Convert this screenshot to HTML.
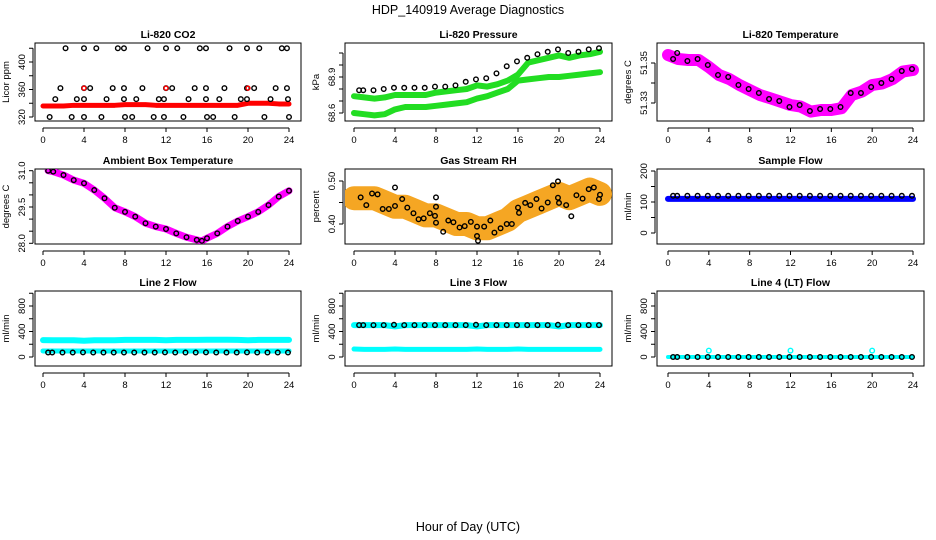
<!DOCTYPE html>
<html><head><meta charset="utf-8"><style>
html,body{margin:0;padding:0;background:#fff;}
svg{display:block;font-family:"Liberation Sans",Arial,sans-serif;}
</style></head><body>
<svg id="chart" width="936" height="540" viewBox="0 0 936 540" xmlns="http://www.w3.org/2000/svg">
<text x="468" y="14" text-anchor="middle" font-size="12.5">HDP_140919  Average Diagnostics</text>
<text x="468" y="531" text-anchor="middle" font-size="12.5">Hour of Day (UTC)</text>
</svg>
<script>
const hours = [0,1,2,3,4,5,6,7,8,9,10,11,12,13,14,15,16,17,18,19,20,21,22,23,24];
const xTicks = [0,4,8,12,16,20,24];
// CO2
const co2Band = [336,336,336,337,337,337,337,337,338,338,338,337,337,337,337,337,337,337,337,337,340,340,340,339,339];
const co2TopH = [2.2,4.0,5.2,7.3,7.9,10.2,12.0,13.1,15.3,15.9,18.2,19.9,21.1,23.3,23.8];
const co2MidH = [1.7,4.0,4.6,6.8,7.9,9.7,12.0,12.6,14.8,15.9,17.7,19.9,20.6,22.7,23.8];
const co2LowH = [1.2,3.3,4.0,6.2,7.9,9.1,11.3,11.8,14.2,15.9,17.2,19.3,19.9,22.2,23.9];
const co2BotH = [0.65,2.8,4.0,5.7,8.0,8.7,10.8,11.8,13.7,16.0,16.6,18.7,21.6,24.0];
const co2Levels = [420,362,346,320];
const co2RedH = [4,12,20];
// Pressure
const presCircles = [68.79,68.79,68.79,68.80,68.81,68.81,68.81,68.81,68.82,68.82,68.83,68.86,68.88,68.89,68.93,68.99,69.03,69.06,69.09,69.11,69.13,69.10,69.11,69.13,69.14];
const presUpper = [68.74,68.73,68.72,68.73,68.75,68.75,68.75,68.75,68.77,68.78,68.79,68.80,68.83,68.82,68.84,68.87,68.92,69.02,69.04,69.06,69.08,69.06,69.08,69.09,69.11];
const presLower = [68.60,68.59,68.58,68.59,68.63,68.65,68.65,68.65,68.66,68.67,68.68,68.69,68.72,68.74,68.77,68.80,68.87,68.88,68.89,68.90,68.90,68.91,68.92,68.93,68.94];
// Li-820 temperature
const ltBand = [51.354,51.352,51.3515,51.3515,51.348,51.344,51.342,51.339,51.3365,51.334,51.3324,51.3307,51.329,51.3282,51.3257,51.3265,51.3265,51.3274,51.334,51.3357,51.339,51.3398,51.342,51.3457,51.3465];
const ltCircles = [51.352,51.355,51.351,51.352,51.349,51.344,51.343,51.339,51.337,51.335,51.332,51.331,51.328,51.329,51.326,51.327,51.327,51.328,51.335,51.335,51.338,51.340,51.342,51.346,51.347];
// Ambient
const ambH = [0.5,1,2,3,4,5,6,7,8,9,10,11,12,13,14,15,15.5,16,17,18,19,20,21,22,23,24];
const ambV = [31.0,30.96,30.82,30.61,30.48,30.2,29.86,29.47,29.3,29.1,28.83,28.69,28.59,28.41,28.25,28.14,28.1,28.21,28.41,28.69,28.92,29.1,29.3,29.58,29.93,30.17];
// RH
const rhBand = [0.46,0.46,0.46,0.45,0.44,0.44,0.43,0.42,0.42,0.41,0.40,0.40,0.39,0.39,0.40,0.41,0.43,0.44,0.45,0.46,0.47,0.46,0.47,0.48,0.47];
const rhH = [0.65,1.2,1.76,2.3,2.8,3.4,4.0,4.0,4.7,5.2,5.8,6.3,6.8,7.4,7.9,8.0,8.0,8.0,8.7,9.2,9.7,10.3,10.8,11.4,12,12,12.1,12.7,13.3,13.7,14.3,14.9,15.4,16,16.1,16.7,17.2,17.8,18.3,18.9,19.4,19.9,19.9,20,20.7,21.2,21.7,22.3,22.9,23.4,23.9,24];
const rhV = [0.462,0.444,0.471,0.469,0.435,0.435,0.485,0.442,0.458,0.438,0.425,0.411,0.413,0.425,0.419,0.44,0.462,0.403,0.382,0.408,0.404,0.392,0.395,0.405,0.394,0.372,0.361,0.394,0.408,0.38,0.39,0.4,0.4,0.438,0.426,0.449,0.444,0.458,0.436,0.45,0.49,0.499,0.461,0.449,0.444,0.418,0.467,0.459,0.481,0.485,0.458,0.468];
// Flows
const sampleBand = [110,110,110,110,110,110,110,110,110,110,110,110,110,110,110,110,110,110,110,110,110,110,110,110,110];
const sampleCirc = [120,120,120,120,120,120,120,120,120,120,120,120,120,120,120,120,120,120,120,120,120,120,120,120,120];
const l2Upper = [265,262,262,262,255,262,262,262,268,268,268,268,262,268,268,268,270,270,270,268,262,268,268,268,268];
const l2Lower = [95,95,95,95,95,95,95,95,95,95,95,95,95,95,95,95,95,95,95,95,95,95,95,95,95];
const l2Circ = [70,70,70,70,72,70,70,70,70,70,70,70,72,70,70,70,72,70,70,70,72,70,70,70,70];
const l3Upper = [500,500,500,500,480,500,500,500,500,500,500,500,480,500,500,500,500,500,500,500,480,500,500,500,500];
const l3Lower = [125,120,120,120,125,120,120,120,120,120,120,120,125,120,120,120,125,120,120,120,120,120,120,120,120];
const l3Circ = [500,500,500,500,505,500,500,500,500,500,500,500,505,500,500,500,500,500,500,500,505,500,500,500,500];
const l4Circ = [0,0,0,0,0,0,0,0,0,0,0,0,0,0,0,0,0,0,0,0,0,0,0,0,0];
const l4CyanH = [4,12,20];
const l4CyanV = [100,100,100];

const NS='http://www.w3.org/2000/svg';
const svg=document.getElementById('chart');
function mk(tag,attrs,parent){const e=document.createElementNS(NS,tag);for(const k in attrs)e.setAttribute(k,attrs[k]);(parent||svg).appendChild(e);return e;}

const cols=[{l:35,r:301,x0:43,x24:289},{l:345,r:612,x0:354,x24:600},{l:657,r:924,x0:668,x24:913}];
const rows=[{t:43,b:121},{t:169,b:244},{t:291,b:366}];

function panel(ci,ri,title,ylab,vA,pA,vB,pB,ticks,labels,name){
  const c=cols[ci],r=rows[ri];
  const g=mk('g',{});
  
  
  const xs=h=>c.x0+(h/24)*(c.x24-c.x0);
  const ys=v=>pA+(v-vA)*(pB-pA)/(vB-vA);
  const t=mk('text',{x:(c.l+c.r)/2,y:r.t-5,'text-anchor':'middle','font-size':10.5,'font-weight':'bold'},g);t.textContent=title;
  
  
  const box=mk('rect',{x:c.l,y:r.t,width:c.r-c.l,height:r.b-r.t,fill:'none',stroke:'#000','stroke-width':1},g);
  
  
  const ax=r.b+7;
  const xa=mk('g',{},g);
  
  
  mk('line',{x1:xs(0),x2:xs(24),y1:ax,y2:ax,stroke:'#000'},xa);
  xTicks.forEach(h=>{mk('line',{x1:xs(h),x2:xs(h),y1:ax,y2:ax+4,stroke:'#000'},xa);
    const tt=mk('text',{x:xs(h),y:ax+15,'text-anchor':'middle','font-size':9.5},xa);tt.textContent=h;});
  const ya=mk('g',{},g);
  
  
  const axl=c.l-2;
  mk('line',{x1:axl,x2:axl,y1:ys(ticks[0]),y2:ys(ticks[ticks.length-1]),stroke:'#000'},ya);
  ticks.forEach(v=>mk('line',{x1:axl-4,x2:axl,y1:ys(v),y2:ys(v),stroke:'#000'},ya));
  labels.forEach(l=>{const y=ys(l[0]);const tt=mk('text',{x:axl-8,y:y,'text-anchor':'middle','font-size':9.5,transform:`rotate(-90 ${axl-8} ${y})`},ya);tt.textContent=l[1];});
  const yl=mk('text',{x:c.l-26,y:(r.t+r.b)/2,'text-anchor':'middle','font-size':9.5,transform:`rotate(-90 ${c.l-26} ${(r.t+r.b)/2})`},g);yl.textContent=ylab;
  
  
  const clip=mk('clipPath',{id:'cp'+name},g);mk('rect',{x:c.l,y:r.t,width:c.r-c.l,height:r.b-r.t},clip);
  const pg=mk('g',{'clip-path':`url(#cp${name})`},g);
  return {xs,ys,g:pg};
}
function band(P,hs,vs,color,w,nm){
  const pts=hs.map((h,i)=>P.xs(h)+','+P.ys(vs[i])).join(' ');
  const e=mk('polyline',{points:pts,fill:'none',stroke:color,'stroke-width':w,'stroke-linejoin':'round','stroke-linecap':'round'},P.g);
  
  
}
function circles(P,hs,vs,color,nm,rad){
  hs.forEach((h,i)=>{const e=mk('circle',{cx:P.xs(h),cy:P.ys(vs[i]),r:rad||2.3,fill:'none',stroke:color,'stroke-width':1.4},P.g);
    
    });
}
const halfH=hours.map(h=>h===0?0.5:h-0.1);

let P=panel(0,0,'Li-820 CO2','Licor ppm',320,117,400,62,[320,340,360,380,400,420],[[320,'320'],[360,'360'],[400,'400']],'co2');
band(P,hours,co2Band,'#ff0000',5,'co2-band');
[co2TopH,co2MidH,co2LowH,co2BotH].forEach((arr,k)=>circles(P,arr,arr.map(()=>co2Levels[k]),'#000','co2-point'));
circles(P,co2RedH,co2RedH.map(()=>362),'#ff0000','co2-red-point',2);

P=panel(1,0,'Li-820 Pressure','kPa',68.6,113,68.9,77,[68.6,68.7,68.8,68.9,69.0,69.1],[[68.6,'68.6'],[68.9,'68.9']],'pressure');
band(P,hours,presUpper,'#22dd22',6,'pressure-upper-band');
band(P,hours,presLower,'#22dd22',6,'pressure-lower-band');
circles(P,halfH,presCircles,'#000','pressure-point');

P=panel(2,0,'Li-820 Temperature','degrees C',51.33,103,51.35,63,[51.33,51.34,51.35],[[51.33,'51.33'],[51.35,'51.35']],'li820-temp');
band(P,hours,ltBand,'#ff00ff',12,'li820-temp-band');
circles(P,halfH,ltCircles,'#000','li820-temp-point');

P=panel(0,1,'Ambient Box Temperature','degrees C',28.0,243.3,31.0,170.7,[28,28.5,29,29.5,30,30.5,31],[[28,'28.0'],[29.5,'29.5'],[31,'31.0']],'ambient');
band(P,ambH,ambV,'#ff00ff',7,'ambient-band');
circles(P,ambH,ambV,'#000','ambient-point');

P=panel(1,1,'Gas Stream RH','percent',0.40,224,0.50,181,[0.40,0.45,0.50],[[0.40,'0.40'],[0.50,'0.50']],'rh');
band(P,hours,rhBand,'#f5a623',24,'rh-band');
circles(P,rhH,rhV,'#000','rh-point');

P=panel(2,1,'Sample Flow','ml/min',0,233,200,171,[0,50,100,150,200],[[0,'0'],[100,'100'],[200,'200']],'sample-flow');
band(P,hours,sampleBand,'#0000ff',6,'sample-flow-band');
circles(P,halfH,sampleCirc,'#000','sample-flow-point');

const fT=[0,200,400,600,800,1000],fL=[[0,'0'],[400,'400'],[800,'800']];
P=panel(0,2,'Line 2 Flow','ml/min',0,357,800,306,fT,fL,'line2');
band(P,hours,l2Upper,'#00ffff',6,'line2-upper-band');
band(P,hours,l2Lower,'#00ffff',5,'line2-lower-band');
circles(P,halfH,l2Circ,'#000','line2-point');
P=panel(1,2,'Line 3 Flow','ml/min',0,357,800,306,fT,fL,'line3');
band(P,hours,l3Upper,'#00ffff',6,'line3-upper-band');
band(P,hours,l3Lower,'#00ffff',5,'line3-lower-band');
circles(P,halfH,l3Circ,'#000','line3-point');
P=panel(2,2,'Line 4 (LT) Flow','ml/min',0,357,800,306,fT,fL,'line4');
band(P,hours,l4Circ,'#00ffff',4,'line4-band');
circles(P,halfH,l4Circ,'#000','line4-point');
circles(P,l4CyanH,l4CyanV,'#00ffff','line4-cyan-point');
</script>
</body></html>
